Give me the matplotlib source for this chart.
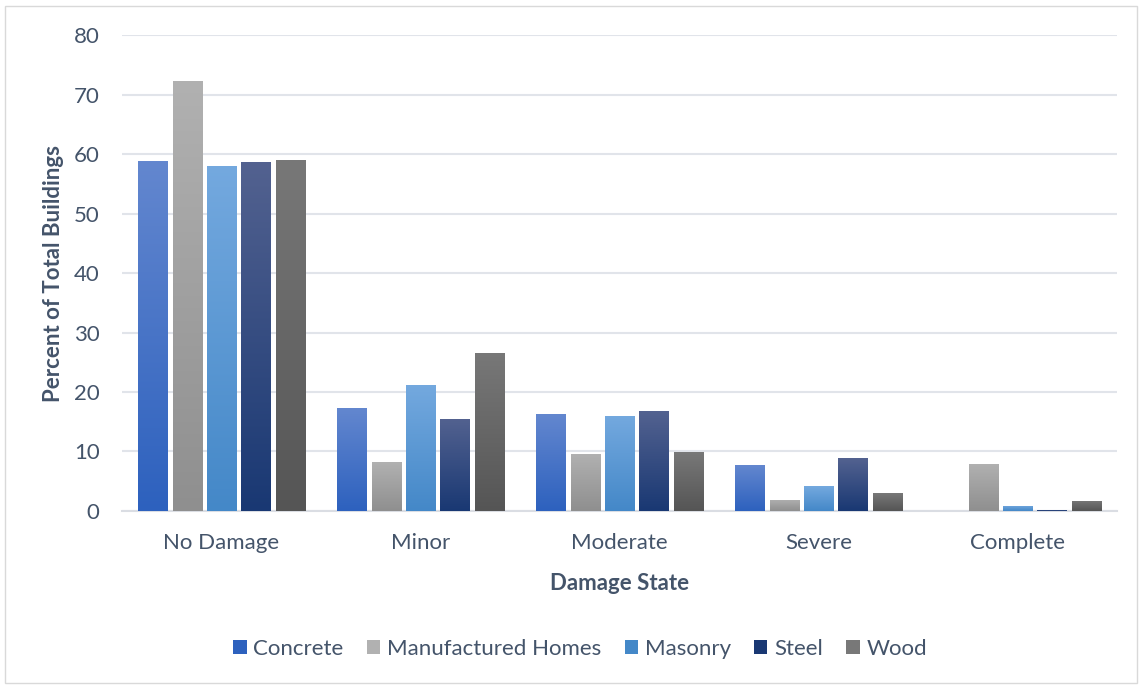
import numpy as np
import matplotlib.pyplot as plt
from matplotlib.colors import LinearSegmentedColormap
from matplotlib.patches import Rectangle, Patch

plt.rcParams['font.family'] = ['Lato', 'DejaVu Sans']

states = ['No Damage', 'Minor', 'Moderate', 'Severe', 'Complete']
concrete = [58.8, 17.3, 16.3, 7.7, 0.0]
manufactured = [72.3, 8.2, 9.6, 1.85, 7.9]
masonry = [58.0, 21.2, 16.0, 4.2, 0.85]
steel = [58.7, 15.5, 16.8, 8.9, 0.2]
wood = [59.0, 26.6, 9.9, 3.0, 1.7]

series = [
    ('Concrete', concrete, '#6387CF', '#2D61BE'),
    ('Manufactured Homes', manufactured, '#B1B1B1', '#8F8F8F'),
    ('Masonry', masonry, '#74A9DF', '#4488C8'),
    ('Steel', steel, '#536290', '#193873'),
    ('Wood', wood, '#787878', '#555555'),
]

txt = '#44546A'
fs = 16
fig = plt.figure(figsize=(11.42, 6.87), dpi=100)
ax = fig.add_axes([0.1068, 0.2562, 0.8712, 0.6928])

x = np.arange(len(states))
w = 0.146
step = 0.1725
grad = np.linspace(0, 1, 256).reshape(-1, 1)

for i, (name, vals, top, bot) in enumerate(series):
    cmap = LinearSegmentedColormap.from_list(name, [bot, top])
    pos = x + (i - 2) * step
    bars = ax.bar(pos, vals, width=w, color=bot, zorder=2)
    for b in bars:
        h = b.get_height()
        if h <= 0:
            continue
        im = ax.imshow(grad, cmap=cmap, aspect='auto', origin='lower',
                       extent=[b.get_x(), b.get_x() + w, 0, h], zorder=3)
        im.set_clip_path(b)

ax.set_xlim(-0.5, 4.5)
ax.set_ylim(0, 80)
ax.set_yticks(range(0, 81, 10))
ax.set_xticks(x)
ax.set_xticklabels(states)
ax.grid(axis='y', color='#E1E4EA', linewidth=1.5, zorder=0)
ax.set_axisbelow(True)
for s in ['top', 'right', 'left']:
    ax.spines[s].set_visible(False)
ax.spines['bottom'].set_color('#DADDE3')
ax.spines['bottom'].set_linewidth(1.5)
ax.tick_params(axis='both', length=0, labelsize=fs, colors=txt)
ax.tick_params(axis='y', pad=16)
ax.tick_params(axis='x', pad=16)
ax.set_xlabel('Damage State', fontsize=fs, fontweight='bold', color=txt, labelpad=14)
ax.set_ylabel('Percent of Total Buildings', fontsize=fs, fontweight='bold', color=txt, labelpad=7)

# legend swatches use a mid tone of each gradient
handles = [Patch(facecolor=s[2] if i in (1, 4) else s[3], label=s[0])
           for i, s in enumerate(series)]
fig.legend(handles=handles, loc='center', bbox_to_anchor=(0.508, 0.056), ncol=5,
           frameon=False, fontsize=fs, labelcolor=txt, handlelength=0.6,
           handleheight=0.6, handletextpad=0.3, columnspacing=1.05)

fig.patches.append(Rectangle((0.004, 0.006), 0.992, 0.985, transform=fig.transFigure,
                             fill=False, edgecolor='#D9D9D9', linewidth=1))

fig.savefig('out.png', dpi=100)
